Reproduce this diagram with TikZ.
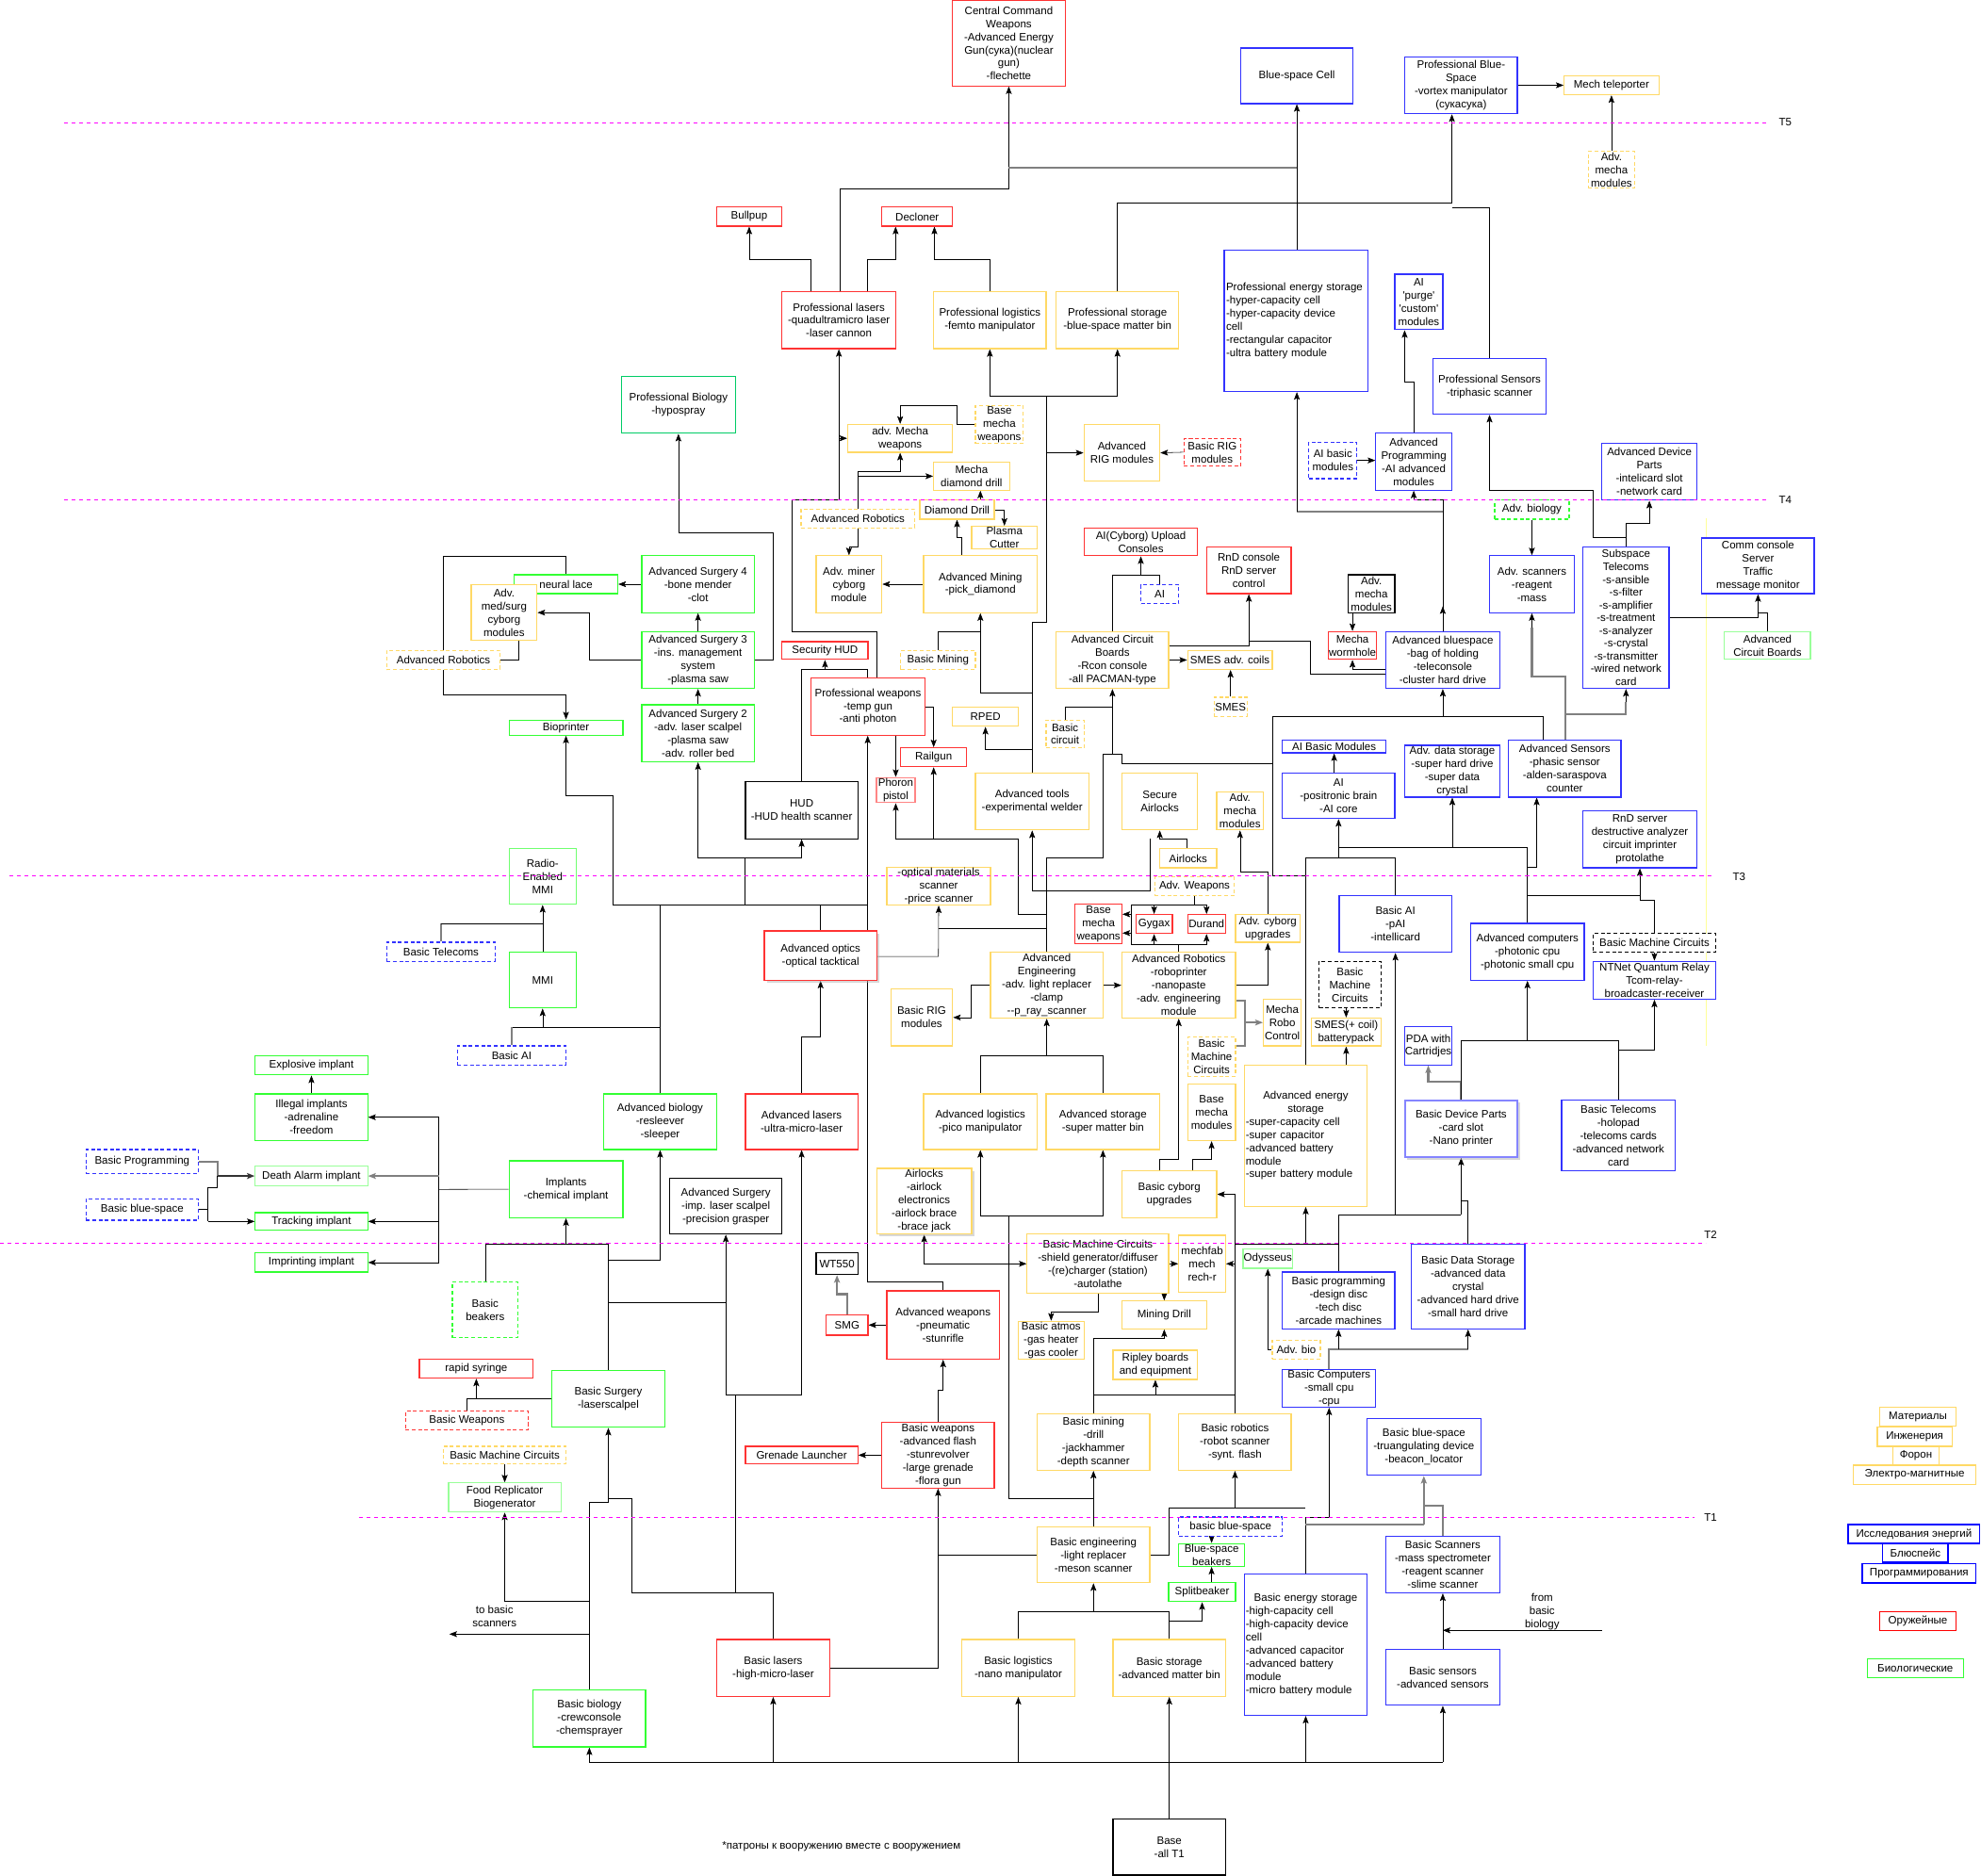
\documentclass[tikz,border=0pt]{standalone}
\usepackage{fontspec}
\setmainfont{Liberation Sans}
\usetikzlibrary{arrows.meta,shadows}
\pgfdeclarelayer{back}
\pgfdeclarelayer{bg}
\pgfsetlayers{back,bg,main}
\definecolor{cred}{HTML}{FF3333}
\definecolor{cyel}{HTML}{FFD966}
\definecolor{cblu}{HTML}{3333FF}
\definecolor{cgrn}{HTML}{33FF33}
\definecolor{clgr}{HTML}{99FF99}
\definecolor{ctgr}{HTML}{00CC66}
\definecolor{cmag}{HTML}{FF00FF}
\definecolor{cgry}{HTML}{808080}
\definecolor{cpyel}{HTML}{FFFF99}
\newcommand\nodefont{\fontsize{8.6}{10.4}\selectfont}
\newcommand\mybox[7]{\pgfmathsetmacro\bxw{#5-#3}\pgfmathsetmacro\bxh{#6-#4}\pgfmathsetmacro\bxx{(#3+#5)/2}\pgfmathsetmacro\bxy{(#4+#6)/2}\node[#1,minimum width=\bxw pt,minimum height=\bxh pt] (#2) at (\bxx,\bxy) {#7};}
\tikzset{
 bx/.style={draw, fill=white, line width=0.9pt, inner sep=0.5pt, align=center, font=\nodefont, text=black},
 sR/.style={bx,draw=cred}, sY/.style={bx,draw=cyel}, sB/.style={bx,draw=cblu},
 sG/.style={bx,draw=cgrn}, sK/.style={bx,draw=black}, sL/.style={bx,draw=clgr}, sT/.style={bx,draw=ctgr},
 dsh/.style={dash pattern=on 3pt off 2pt},
 dR/.style={sR,dsh}, dY/.style={sY,dsh}, dB/.style={sB,dsh}, dG/.style={sG,dsh}, dK/.style={sK,dsh},
 shd/.style={drop shadow={shadow xshift=2pt,shadow yshift=-2pt,fill=black!30}},
 ar/.style={-{Stealth[length=6pt,width=4.6pt,inset=1.2pt]}},
 arr2/.style={{Stealth[length=6pt,width=4.6pt,inset=1.2pt]}-{Stealth[length=6pt,width=4.6pt,inset=1.2pt]}},
 gl/.style={draw=cgry, line width=1.6pt},
 tl/.style={draw=cmag, line width=0.8pt, dash pattern=on 3pt off 3pt},
 lbl/.style={font=\nodefont, align=center, inner sep=0pt},
}
\begin{document}
\begin{tikzpicture}[x=1pt,y=-1pt,line width=0.8pt]
\useasboundingbox (0,0) rectangle (1568,1485);
\begin{pgfonlayer}{back}
\fill[white] (0,0) rectangle (1568,1485);
\end{pgfonlayer}
% ---------------- nodes ----------------
\mybox{sR}{cc}{754}{0.5}{843}{68}{Central Command\\Weapons\\-Advanced Energy\\Gun(сука)(nuclear\\gun)\\-flechette}
\mybox{sB}{bsc}{982}{38}{1071}{82}{Blue-space Cell}
\mybox{sB}{pbs}{1112}{45}{1201}{90}{Professional Blue-\\Space\\-vortex manipulator\\(сукасука)}
\mybox{sY}{mtel}{1238}{60}{1313}{75}{Mech teleporter}
\mybox{dY}{amm1}{1257}{120}{1294}{149}{Adv.\\mecha\\modules}
\mybox{sR}{bull}{567}{164}{619}{179}{Bullpup}
\mybox{sR}{decl}{698}{164}{754}{179}{Decloner}
\mybox{sR}{plas}{619}{231}{709}{276}{Professional lasers\\-quadultramicro laser\\-laser cannon}
\mybox{sY}{plog}{739}{231}{828}{276}{Professional logistics\\-femto manipulator}
\mybox{sY}{psto}{836}{231}{933}{276}{Professional storage\\-blue-space matter bin}
\mybox{sB,align=left,text width=111pt}{pen}{969}{198}{1083}{310}{Professional energy storage\\-hyper-capacity cell\\-hyper-capacity device\\cell\\-rectangular capacitor\\-ultra battery module}
\mybox{sB}{aipurge}{1104}{217}{1142}{261}{AI\\\textquotesingle purge\textquotesingle\\\textquotesingle custom\textquotesingle\\modules}
\mybox{sB}{psen}{1134}{284}{1224}{328}{Professional Sensors\\-triphasic scanner}
\mybox{sT}{pbio}{492}{298}{582}{343}{Professional Biology\\-hypospray}
\mybox{sY}{amw}{671}{336}{754}{358}{adv. Mecha\\weapons}
\mybox{dY}{bmw}{772}{321}{810}{351}{Base\\mecha\\weapons}
\mybox{sY}{arig}{858}{336}{918}{381}{Advanced\\RIG modules}
\mybox{dR}{brig}{937}{347}{982}{369}{Basic RIG\\modules}
\mybox{dB}{aibm}{1036}{350}{1074}{379}{AI basic\\modules}
\mybox{sB}{aprog}{1089}{343}{1149}{388}{Advanced\\Programming\\-AI advanced\\modules}
\mybox{sB}{adp}{1268}{351}{1343}{396}{Advanced Device\\Parts\\-intelicard slot\\-network card}
\mybox{sY}{mdd}{739}{366}{799}{388}{Mecha\\diamond drill}
\mybox{sY}{ddr}{728}{396}{787}{411}{Diamond Drill}
\mybox{dY}{arob1}{634}{403}{724}{418}{Advanced Robotics}
\mybox{sY}{pcut}{769}{418}{821}{433}{Plasma\\Cutter}
\mybox{dG}{abio}{1183}{396}{1242}{411}{Adv. biology}
\mybox{sR}{aiup}{858}{418}{948}{440}{AI(Cyborg) Upload\\Consoles}
\mybox{sB}{comm}{1347}{426}{1436}{470}{Comm console\\Server\\Traffic\\message monitor}
\mybox{sR}{rndc}{955}{433}{1022}{470}{RnD console\\RnD server\\control}
\mybox{sG}{as4}{508}{440}{597}{485}{Advanced Surgery 4\\-bone mender\\-clot}
\mybox{sG}{nlace}{407}{455}{489}{470}{neural lace}
\mybox{sY}{amsc}{373}{463}{425}{507}{Adv.\\med/surg\\cyborg\\modules}
\mybox{sY}{aminer}{646}{440}{698}{485}{Adv. miner\\cyborg\\module}
\mybox{sY}{amin}{731}{440}{821}{485}{Advanced Mining\\-pick\_diamond}
\mybox{dB}{aidash}{903}{463}{933}{478}{AI}
\mybox{sK}{amm2}{1067}{455}{1104}{485}{Adv.\\mecha\\modules}
\mybox{sB}{ascan}{1179}{440}{1246}{485}{Adv. scanners\\-reagent\\-mass}
\mybox{sB,font=\fontsize{8.6}{10.1}\selectfont}{subs}{1253}{433}{1321}{545}{Subspace\\Telecoms\\-s-ansible\\-s-filter\\-s-amplifier\\-s-treatment\\-s-analyzer\\-s-crystal\\-s-transmitter\\-wired network\\card}
\mybox{sG}{as3}{508}{500}{597}{545}{Advanced Surgery 3\\-ins. management\\system\\-plasma saw}
\mybox{dY}{arob2}{306}{515}{396}{530}{Advanced Robotics}
\mybox{sR}{shud}{619}{508}{687}{522}{Security HUD}
\mybox{dY}{bmin}{713}{515}{772}{530}{Basic Mining}
\mybox{sY}{acb}{836}{500}{925}{545}{Advanced Circuit\\Boards\\-Rcon console\\-all PACMAN-type}
\mybox{sY}{smesac}{940}{515}{1007}{530}{SMES adv. coils}
\mybox{sR}{mwh}{1052}{500}{1089}{522}{Mecha\\wormhole}
\mybox{sB}{absp}{1097}{500}{1187}{545}{Advanced bluespace\\-bag of holding\\-teleconsole\\-cluster hard drive}
\mybox{sL}{acb2}{1365}{500}{1433}{522}{Advanced\\Circuit Boards}
\mybox{sR}{pweap}{642}{537}{732}{582}{Professional weapons\\-temp gun\\-anti photon}
\mybox{dY}{smes}{961}{552}{987}{567}{SMES}
\mybox{sG}{as2}{508}{558}{597}{603}{Advanced Surgery 2\\-adv. laser scalpel\\-plasma saw\\-adv. roller bed}
\mybox{sG}{bioprn}{403}{570}{493}{582}{Bioprinter}
\mybox{sY}{rped}{754}{560}{806}{575}{RPED}
\mybox{dY}{bcirc}{828}{570}{858}{592}{Basic\\circuit}
\mybox{sB}{aibasic}{1015}{586}{1097}{596}{AI Basic Modules}
\mybox{sB}{adst}{1112}{590}{1187}{631}{Adv. data storage\\-super hard drive\\-super data\\crystal}
\mybox{sB}{asen}{1194}{586}{1283}{631}{Advanced Sensors\\-phasic sensor\\-alden-saraspova\\counter}
\mybox{sR}{rail}{713}{592}{765}{607}{Railgun}
\mybox{bx,draw=cred!60,line width=1.4pt}{phor}{694}{616}{724}{635}{Phoron\\pistol}
\mybox{sK}{hud}{590}{619}{679}{664}{HUD\\-HUD health scanner}
\mybox{sY}{atools}{772}{612}{862}{657}{Advanced tools\\-experimental welder}
\mybox{sY}{sair}{888}{612}{948}{657}{Secure\\Airlocks}
\mybox{sY}{amm3}{963}{627}{1000}{657}{Adv.\\mecha\\modules}
\mybox{sB}{aipos}{1015}{612}{1104}{648}{AI\\-positronic brain\\-AI core}
\mybox{sB}{rnds}{1253}{642}{1343}{687}{RnD server\\destructive analyzer\\circuit imprinter\\protolathe}
\mybox{sY}{air}{918}{672}{963}{687}{Airlocks}
\mybox{bx,draw=cgrn!70}{rmmi}{403}{672}{456}{716}{Radio-\\Enabled\\MMI}
\mybox{sY}{opt}{702}{687}{784}{716}{-optical materials\\scanner\\-price scanner}
\mybox{dY}{awep}{914}{694}{977}{709}{Adv. Weapons}
\mybox{sR}{bmw2}{851}{716}{888}{747}{Base\\mecha\\weapons}
\mybox{sR}{gyg}{899}{724}{928}{739}{Gygax}
\mybox{sR}{dur}{940}{724}{970}{739}{Durand}
\mybox{sY}{acu}{978}{724}{1029}{746}{Adv. cyborg\\upgrades}
\mybox{sB}{bai}{1060}{709}{1149}{754}{Basic AI\\-pAI\\-intellicard}
\mybox{sB}{acomp}{1164}{731}{1254}{776}{Advanced computers\\-photonic cpu\\-photonic small cpu}
\mybox{dK}{bmc1}{1261}{739}{1358}{754}{Basic Machine Circuits}
\mybox{sB}{ntnet}{1261}{761}{1358}{791}{NTNet Quantum Relay\\Tcom-relay-\\broadcaster-receiver}
\mybox{sR,shd}{aopt}{605}{737}{694}{776}{Advanced optics\\-optical tacktical}
\mybox{dB}{btel}{306}{746}{392}{761}{Basic Telecoms}
\mybox{sG}{mmi}{403}{754}{456}{798}{MMI}
\mybox{sY}{aeng}{784}{754}{873}{806}{Advanced\\Engineering\\-adv. light replacer\\-clamp\\-{}-p\_ray\_scanner}
\mybox{sY}{arob}{888}{754}{978}{806}{Advanced Robotics\\-roboprinter\\-nanopaste\\-adv. engineering\\module}
\mybox{sY}{brig2}{705}{783}{754}{828}{Basic RIG\\modules}
\mybox{dK}{bmc2}{1044}{761}{1093}{798}{Basic\\Machine\\Circuits}
\mybox{sY}{mrc}{1000}{791}{1030}{828}{Mecha\\Robo\\Control}
\mybox{sY}{smesb}{1038}{806}{1093}{828}{SMES(+ coil)\\batterypack}
\mybox{dY}{bmc3}{940}{821}{978}{852}{Basic\\Machine\\Circuits}
\mybox{sB}{pda}{1112}{813}{1149}{843}{PDA with\\Cartridjes}
\mybox{sG}{expl}{202}{836}{291}{851}{Explosive implant}
\mybox{dB}{baiL}{362}{828}{448}{843}{Basic AI}
\mybox{sY}{bmm}{940}{858}{978}{903}{Base\\mecha\\modules}
\mybox{sY,align=left,text width=95pt}{aes}{985}{843}{1082}{955}{{\centering Advanced energy\\storage\par}-super-capacity cell\\-super capacitor\\-advanced battery\\module\\-super battery module}
\mybox{sG}{ill}{202}{866}{291}{903}{Illegal implants\\-adrenaline\\-freedom}
\mybox{sG}{abiol}{478}{866}{567}{910}{Advanced biology\\-resleever\\-sleeper}
\mybox{sR}{alas}{590}{866}{679}{910}{Advanced lasers\\-ultra-micro-laser}
\mybox{sY}{alog}{731}{866}{821}{910}{Advanced logistics\\-pico manipulator}
\mybox{sY}{asto}{828}{866}{918}{910}{Advanced storage\\-super matter bin}
\mybox{bx,draw=cblu!60,line width=1.3pt,shd}{bdp}{1112}{871}{1201}{916}{Basic Device Parts\\-card slot\\-Nano printer}
\mybox{sB}{btel2}{1236}{871}{1326}{927}{Basic Telecoms\\-holopad\\-telecoms cards\\-advanced network\\card}
\mybox{dB}{bprog}{68}{910}{157}{929}{Basic Programming}
\mybox{sL}{death}{202}{923}{291}{939}{Death Alarm implant}
\mybox{sG}{impl}{403}{919}{493}{964}{Implants\\-chemical implant}
\mybox{sK}{asurg}{530}{933}{619}{977}{Advanced Surgery\\-imp. laser scalpel\\-precision grasper}
\mybox{sY,shd}{airl}{694}{925}{769}{977}{Airlocks\\-airlock\\electronics\\-airlock brace\\-brace jack}
\mybox{sY}{bcu}{888}{927}{963}{964}{Basic cyborg\\upgrades}
\mybox{dB}{bbsL}{68}{949}{157}{966}{Basic blue-space}
\mybox{sG}{track}{202}{960}{291}{974}{Tracking implant}
\mybox{sG}{impr}{202}{992}{291}{1007}{Imprinting implant}
\mybox{sY}{bmc4}{813}{977}{925}{1024}{Basic Machine Circuits\\-shield generator/diffuser\\-(re)charger (station)\\-autolathe}
\mybox{sY}{mech}{933}{978}{970}{1023}{mechfab\\mech\\rech-r}
\mybox{sL}{ody}{985}{989}{1022}{1004}{Odysseus}
\mybox{sB}{bprg}{1015}{1007}{1104}{1052}{Basic programming\\-design disc\\-tech disc\\-arcade machines}
\mybox{sB}{bds}{1117}{985}{1207}{1052}{Basic Data Storage\\-advanced data\\crystal\\-advanced hard drive\\-small hard drive}
\mybox{sK}{wt}{646}{992}{679}{1009}{WT550}
\mybox{dG}{bbeak}{358}{1015}{410}{1059}{Basic\\beakers}
\mybox{sR}{smg}{654}{1041}{687}{1057}{SMG}
\mybox{sR}{awea}{702}{1022}{791}{1076}{Advanced weapons\\-pneumatic\\-stunrifle}
\mybox{sY}{mdr}{888}{1030}{955}{1052}{Mining Drill}
\mybox{sY}{batm}{806}{1046}{858}{1076}{Basic atmos\\-gas heater\\-gas cooler}
\mybox{sY}{ripl}{881}{1069}{948}{1092}{Ripley boards\\and equipment}
\mybox{dY}{abio2}{1007}{1061}{1045}{1076}{Adv. bio}
\mybox{sB}{bcomp}{1015}{1084}{1089}{1114}{Basic Computers\\-small cpu\\-cpu}
\mybox{sR}{rsyr}{332}{1076}{422}{1091}{rapid syringe}
\mybox{sG}{bsurg}{437}{1085}{526}{1130}{Basic Surgery\\-laserscalpel}
\mybox{dR}{bweapd}{321}{1117}{418}{1132}{Basic Weapons}
\mybox{sR}{bweap}{698}{1126}{787}{1178}{Basic weapons\\-advanced flash\\-stunrevolver\\-large grenade\\-flora gun}
\mybox{sY}{bmin2}{821}{1119}{910}{1164}{Basic mining\\-drill\\-jackhammer\\-depth scanner}
\mybox{sY}{brob}{933}{1119}{1022}{1164}{Basic robotics\\-robot scanner\\-synt. flash}
\mybox{sB}{bbs}{1082}{1123}{1172}{1168}{Basic blue-space\\-truangulating device\\-beacon\_locator}
\mybox{sR}{gren}{590}{1145}{679}{1159}{Grenade Launcher}
\mybox{dY}{bmc5}{351}{1145}{448}{1159}{Basic Machine Circuits}
\mybox{sL}{food}{355}{1174}{444}{1197}{Food Replicator\\Biogenerator}
\mybox{dB}{bbsd}{933}{1201}{1015}{1216}{basic blue-space}
\mybox{sG}{bsbk}{933}{1222}{985}{1240}{Blue-space\\beakers}
\mybox{sY}{beng}{821}{1209}{910}{1253}{Basic engineering\\-light replacer\\-meson scanner}
\mybox{sG}{split}{925}{1253}{978}{1268}{Splitbeaker}
\mybox{sB}{bscan}{1097}{1216}{1187}{1261}{Basic Scanners\\-mass spectrometer\\-reagent scanner\\-slime scanner}
\mybox{sB,align=left,text width=95pt}{bes}{985}{1246}{1082}{1358}{{\centering Basic energy storage\par}-high-capacity cell\\-high-capacity device\\cell\\-advanced capacitor\\-advanced battery\\module\\-micro battery module}
\mybox{sR}{blas}{567}{1298}{657}{1343}{Basic lasers\\-high-micro-laser}
\mybox{sY}{blog}{761}{1298}{851}{1343}{Basic logistics\\-nano manipulator}
\mybox{sY}{bsto}{881}{1298}{970}{1343}{Basic storage\\-advanced matter bin}
\mybox{sB}{bsen}{1097}{1306}{1187}{1350}{Basic sensors\\-advanced sensors}
\mybox{sG}{bbio}{422}{1338}{511}{1383}{Basic biology\\-crewconsole\\-chemsprayer}
\mybox{sK}{base}{881}{1440}{970}{1484.5}{Base\\-all T1}
% legend
\mybox{sY}{lg1}{1488}{1114}{1548}{1129}{Материалы}
\mybox{sY}{lg2}{1486}{1130}{1545}{1145}{Инженерия}
\mybox{sY}{lg3}{1498}{1145}{1535}{1160}{Форон}
\mybox{sY}{lg4}{1467}{1160}{1564}{1175}{Электро-магнитные}
\mybox{sB,draw=blue,line width=1.2pt}{lg5}{1463}{1207}{1567}{1222}{Исследования энергий}
\mybox{sB,draw=blue,line width=1.2pt}{lg6}{1490}{1222}{1542}{1237}{Блюспейс}
\mybox{sB,draw=blue,line width=1.2pt}{lg7}{1474}{1238}{1564}{1253}{Программирования}
\mybox{sR,draw=red}{lg8}{1488}{1276}{1548}{1291}{Оружейные}
\mybox{sG}{lg9}{1478}{1313}{1554}{1328}{Биологические}
% free labels
\node[lbl] (tobs) at (391.4,1279.3) {to basic\\scanners};
\node[lbl] (fbb) at (1220.6,1276) {from\\basic\\biology};
\node[lbl] (note) at (666,1461.5) {*патроны к вооружению вместе с вооружением};
\node[lbl] (t5) at (1413,97) {T5};
\node[lbl] (t4) at (1413,396) {T4};
\node[lbl] (t3) at (1376.5,694) {T3};
\node[lbl] (t2) at (1354,977.5) {T2};
\node[lbl] (t1) at (1354,1201.5) {T1};
\coordinate (toscan) at (355.7,1293.7);
\coordinate (frombio) at (1268,1290.7);
% tier lines (on top)
\draw[tl] (50.8,97.2) -- (1400,97.2);
\draw[tl] (50.8,395.6) -- (1400,395.6);
\draw[tl] (7.3,693.3) -- (1357,693.3);
\draw[tl] (0,984.1) -- (1350,984.1);
\draw[tl] (284,1201.2) -- (1341.5,1201.2);
% ---------------- connectors ----------------
\begin{pgfonlayer}{bg}
\draw[cpyel,line width=0.6pt] (1350.5,410) -- (1350.5,828);
\draw[ar] (plas.north -| 664.5,0) -- (664.5,149.4) -| (cc.south);
\draw[gl] (798.5,132.8) -- (1026.5,132.8);
\draw[ar] (pen.north -| 1026.5,0) -- (bsc.south);
\draw[ar] (plas.north -| 641.8,0) -- (641.8,205.4) -| (bull.south);
\draw[ar] (plas.north -| 686.5,0) -- (686.5,205.4) -| (decl.south -| 708.9,0);
\draw[ar] (plog.north) -- (783.5,205.4) -| (decl.south -| 739.6,0);
\draw[ar] (psto.north) -- (884.5,160.6) -| (pbs.south -| 1149.2,0);
\draw (psen.north) |- (1149.2,164.4);
\draw[ar] (pbs.east) -- (mtel.west);
\draw[ar] (amm1.north) -- (mtel.south);
\draw (atools.north) -- (817,492.6) -- (828.4,492.6) -- (828.4,313.5);
\draw[ar] (828.4,313.5) -| (plog.south);
\draw[ar] (828.4,313.5) -| (psto.south);
\draw[ar] (arig.west -| 828.4,0) -- (arig.west);
\draw[ar] (817,548.5) -| (amin.south);
\draw[ar] (817,593.3) -| (rped.south);
\draw (bmin.north) |- (776,500);
\draw[ar] (brig.west) -- (arig.east);
\draw[ar] (bmw.west) -- (757.6,336) -- (757.6,321) -| (amw.north);
\draw[ar] (amw.west -| 664.5,0) -- (amw.west);
\draw[ar] (arob1.north) -- (679,373) -| (amw.south);
\draw[ar] (679,377) -- (mdd.west);
\draw[ar] (arob1.south) -- (679,433) -| (aminer.north);
\draw[ar] (amin.west) -- (aminer.east);
\draw[ar] (amin.north -| 761.3,0) -- (761.3,425.5) -| (ddr.south);
\draw[ar] (ddr.east) -| (pcut.north);
\draw[ar] (ddr.north -| 776,0) -- (mdd.south -| 776,0);
\draw[ar] (pweap.north -| 694.2,0) -- (694.2,500) -- (627.1,500) -- (627.1,395.6) -| (plas.south);
\draw[ar] (as3.east |- 0,522.4) -- (611.7,522.4) -- (611.7,421.7) -| (pbio.south);
\draw[ar] (as3.north) -- (as4.south);
\draw[ar] (as2.north) -- (as3.south);
\draw (589.7,716.4) -- (589.7,679.1);
\draw[ar] (589.7,679.1) -| (as2.south);
\draw[ar] (589.7,679.1) -| (hud.south);
\draw (hud.north) |- (686.8,529.9);
\draw[ar] (shud.south |- 0,529.9) -- (shud.south);
\draw (686.8,529.9) -- (pweap.north -| 686.8,0);
\draw[ar] (pweap.east) -| (rail.north);
\draw[ar] (pweap.south -| phor.north) -- (phor.north);
\draw[ar] (806.1,664.2) -| (phor.south);
\draw[ar] (rail.south |- 0,664.2) -- (rail.south);
\draw (806.1,664.2) -- (806.1,723.8) -- (828.4,723.8);
\draw[ar] (aeng.north) -- (828.5,679.1) -- (873.2,679.1) -- (873.2,597.2) -- (880.5,597.2) -- (acb.south);
\draw (880.5,597.2) -- (887.9,597.2) -- (887.9,604.5) -- (1007.4,604.5) -- (1007.4,567.2) -- (1221.3,567.2) -- (asen.north -| 1221.3,0);
\draw[ar] (1142,567.2) -- (absp.south);
\draw (1007.4,567.2) -- (1007.4,693.3) -- (1033.5,693.3);
\draw[ar] (aopt.east |- 0,757.3) -- (742.75,757.3) -- (opt.south);
\draw (742.75,735) -- (828.5,735);
\draw (bcirc.north) |- (880.5,559.7);
\draw[ar] (acb.north) -- (880.5,455.3) -| (aiup.south);
\draw (aidash.north) |- (902.9,455.3);
\draw[ar] (acb.east |- 0,511.2) -| (rndc.south);
\draw (988.5,507.5) -- (1036.9,507.5) -- (1036.9,533.6) -- (absp.west |- 0,533.6);
\draw[ar] (acb.east |- smesac.west) -- (smesac.west);
\draw[ar] (smes.north) -- (smesac.south -| smes.north);
\draw[ar] (amm2.south -| mwh.north) -- (mwh.north);
\draw[ar] (absp.west |- 0,529.9) -| (mwh.south);
\draw[ar] (aibm.east) -- (aprog.west |- aibm.east);
\draw[ar] (aprog.north) -- (1119,302.4) -| (aipurge.south -| 1111.8,0);
\draw[ar] (absp.north) -- (1142,395.6) -| (aprog.south);
\draw[ar] (1142,492) -- (1142,480);
\draw[gl] (1142,404.8) -- (1026.5,404.8);
\draw[ar] (1026.5,404.8) -- (pen.south -| 1026.5,0);
\draw[ar] (abio.south) -- (ascan.north);
\draw[gl] (asen.north -| 1238.7,0) -- (1238.7,535.6) -- (1212.5,535.6) -- (1212.5,497);
\draw[ar] (1212.5,497) -- (ascan.south);
\draw[gl] (1238.7,565.2) -- (1287,565.2) -- (1287,556);
\draw[ar] (1287,556) -- (subs.south);
\draw[ar] (subs.north) -- (1287,414.3) -| (adp.south);
\draw[ar] (1287,425.5) -- (1261,425.5) -- (1261,388.2) -| (psen.south);
\draw[ar] (subs.east |- 0,488.9) -| (comm.south);
\draw (acb2.north) |- (1391.5,485.1);
\draw[ar] (as4.west) -- (nlace.east);
\draw[ar] (as3.west |- 0,522.4) -- (466.2,522.4) -- (466.2,485) -- (amsc.east);
\draw (arob2.north) -- (351,440.4) -| (nlace.north);
\draw (arob2.east) -| (amsc.south -| 410.4,0);
\draw[ar] (arob2.south) -- (351,550.1) -| (bioprn.north);
\draw[ar] (485.2,716.4) -- (485.2,629.9) -| (bioprn.south);
\draw (485.2,716.4) -- (686.8,716.4);
\draw (abiol.north) -- (522.5,716.4);
\draw (aopt.north) -- (649.5,716.4);
\draw[ar] (awea.north) -- (746.5,1014.7) -- (686.8,1014.7) -- (pweap.south -| 686.8,0);
\draw[ar] (mmi.north) -- (rmmi.south);
\draw[gl] (btel.north) -- (349,731.3);
\draw (349,731.3) -- (429.5,731.3);
\draw (522.5,813.3) -- (404.8,813.3);
\draw[ar] (429.5,813.3) -- (mmi.south);
\draw[gl] (baiL.north) -- (baiL.north |- 0,813.3);
\draw[ar] (ill.north) -- (expl.south);
\draw (impl.west) -- (347.3,941.6);
\draw (347.3,884.5) -- (347.3,999.8);
\draw[ar] (347.3,884.5) -- (ill.east);
\draw[gl,ar] (347.3,931) -- (death.east);
\draw[ar] (347.3,967) -- (track.east);
\draw[ar] (347.3,999.5) -- (impr.east);
\draw[gl] (bprog.east) -- (172,919.5) -- (172,931);
\draw[ar,line width=1.4pt,black!80] (172,931) -- (death.west);
\draw (bbsL.east) -- (164.6,957.5);
\draw (164.6,940.2) -- (164.6,967);
\draw (164.6,940.2) -- (172,940.2) -- (172,931);
\draw[ar] (164.6,967) -- (track.west);
\draw[ar] (alas.north) -- (634.5,820.8) -| (aopt.south);
\draw[ar] (574.5,1104.2) -- (asurg.south);
\draw[ar] (574.5,1104.2) -| (alas.south);
\draw (481.5,1031.1) -- (574.5,1031.1);
\draw (bsurg.north) -- (481.5,984.8);
\draw (384,984.8) -- (481.5,984.8);
\draw[ar] (impl.south |- 0,984.8) -- (impl.south);
\draw (bbeak.north) -- (384,984.8);
\draw[ar] (481.5,997.5) -| (abiol.south);
\draw[ar] (bsurg.west) -| (rsyr.south);
\draw (bweapd.north) |- (bsurg.west);
\draw[ar] (bbio.north) -- (466.5,1189.3) -| (bsurg.south);
\draw (481.5,1186.3) -- (500,1186.3) -- (500,1260.9) -- (612,1260.9) -- (blas.north);
\draw (582.3,1260.9) -- (582.3,1104.2) -- (574.5,1104.2);
\draw[ar] (466.5,1267.6) -| (food.south);
\draw[ar] (bmc5.south) -- (food.north);
\draw[ar] (466.5,1293.7) -- (toscan);
\draw (466.5,1395.2) -- (1142,1395.2);
\draw[ar] (bbio.south |- 0,1395.2) -- (bbio.south);
\draw[ar] (blas.south |- 0,1395.2) -- (blas.south);
\draw[ar] (blog.south |- 0,1395.2) -- (blog.south);
\draw[ar] (base.north) -- (bsto.south);
\draw[ar] (bes.south |- 0,1395.2) -- (bes.south);
\draw[ar] (bsen.south |- 0,1395.2) -- (bsen.south);
\draw[ar] (blas.east) -| (bweap.south);
\draw (742.5,1231) -- (beng.west);
\draw[ar] (bweap.west) -- (gren.east);
\draw[ar] (bweap.north) -- (742.5,1100.7) -| (awea.south);
\draw[ar] (awea.west) -- (smg.east);
\draw[gl,ar] (smg.north) -- (670.5,1024.6) -| (wt.south);
\draw[ar] (beng.north) -- (bmin2.south);
\draw (865.5,1186.3) -- (798.4,1186.3) -- (798.4,962.5);
\draw[ar] (798.4,962.5) -| (alog.south);
\draw[ar] (798.4,962.5) -| (asto.south);
\draw (alog.north) -- (776,835.7) -| (asto.north);
\draw[ar] (828.5,835.7) -- (aeng.south);
\draw[ar] (aeng.west) -- (768.7,780) |- (brig2.east);
\draw[ar] (aeng.east) -- (arob.west);
\draw[ar] (arob.east) -| (acu.south);
\draw[gl] (arob.east |- 0,792.2) -- (985.1,792.2) -- (985.1,828.2) -- (bmc3.east |- 0,828.2);
\draw[gl,ar] (985.1,809.5) -- (mrc.west);
\draw[ar] (bcu.north -| 917.9,0) -- (917.9,917.7) -| (arob.south);
\draw[ar] (bcu.north -| 944,0) -- (944,917.7) -| (bmm.south);
\draw[ar] (brob.north) -- (977.5,945.5) -- (bcu.east);
\draw[ar] (977.5,1000.5) -- (mech.east);
\draw (977.5,1104.2) -- (865.5,1104.2);
\draw[ar] (914.5,1104.2) -- (ripl.south);
\draw[ar] (bmin2.north) -- (865.5,1059.4) -| (mdr.south);
\draw[ar] (bmc4.east) -- (mech.west);
\draw[ar] (bmc4.south -| mdr.north) -- (mdr.north);
\draw[ar] (bmc4.south -| 869.5,0) -- (869.5,1038.5) -| (batm.north);
\draw[arr2] (airl.south) |- (bmc4.west);
\draw[ar] (abio2.west) -| (ody.south);
\draw[gl] (bcomp.north) -- (1052,1067.9) -- (1162,1067.9);
\draw[ar] (1162,1067.9) -- (bds.south);
\draw[ar] (1059.5,1067.9) -- (bprg.south);
\draw[ar] (bes.north) -- (1033.5,1201.2) -| (bcomp.south);
\draw[gl] (1033.5,1206.7) -- (1127,1206.7);
\draw[gl,ar] (1127,1206.7) -- (bbs.south);
\draw[gl] (bscan.north) -- (1142,1191.8) -- (1127,1191.8);
\draw (beng.east) -- (925.3,1231) -- (925.3,1193.8) -- (1033.5,1193.8);
\draw[ar] (977.5,1193.8) -- (brob.south);
\draw[ar] (bbsd.south -| bsbk.north) -- (bsbk.north);
\draw[ar] (split.north -| bsbk.south) -- (bsbk.south);
\draw (blog.north) -- (806,1275.8) -| (bsto.north);
\draw[ar] (865.5,1275.8) -- (beng.south);
\draw[ar] (925.5,1283.3) -| (split.south);
\draw[ar] (bsen.north) -- (bscan.south);
\draw[ar] (frombio) -- (1142,1290.7);
\draw[gl,ar] (bdp.north) -- (1156.5,856.1) -| (pda.south);
\draw (bdp.north) -- (1156.5,823.7) -| (btel2.north);
\draw[ar] (1209,823.7) -- (acomp.south);
\draw[ar] (1281,831.2) -| (ntnet.south);
\draw[ar] (bmc1.south) -- (ntnet.north);
\draw[ar] (bmc1.north) -- (1309.5,712.7) -| (rnds.south);
\draw (acomp.north) -- (1209,671);
\draw[ar] (1209,671) -| (adst.south);
\draw[ar] (1209,686.5) -| (asen.south -| 1216.3,0);
\draw (1209,709) -- (1298,709);
\draw (1209,671) -- (1059.5,671);
\draw[ar] (1059.5,679.1) -- (aipos.south);
\draw (1033.5,679.1) -- (1104.5,679.1);
\draw (1104.5,679.1) -- (bai.north);
\draw (1033.5,679.1) -- (aes.north);
\draw[ar] (aipos.north -| aibasic.south) -- (aibasic.south);
\draw[ar] (bai.south |- 0,961.7) -- (bai.south);
\draw (1059.5,961.7) -- (1156.5,961.7);
\draw[ar] (1156.5,961.7) -- (bdp.south);
\draw (bprg.north) -- (1059.5,961.7);
\draw (bds.north -| 1161.8,0) -- (1161.8,950.3) -- (1156.5,950.3);
\draw[ar] (1033.5,985.2) -- (aes.south);
\draw (977.5,985.2) -- (1059.5,985.2);
\draw[ar] (aes.north -| smesb.south) -- (smesb.south);
\draw[ar] (bmc2.south -| smesb.north) -- (smesb.north);
\draw (awep.south) -- (945.5,716.4);
\draw (895.6,716.4) -- (955,716.4);
\draw[ar] (913.5,716.4) -- (gyg.north);
\draw[ar] (955,716.4) -- (dur.north);
\draw (895.6,716.4) -- (895.6,748);
\draw[ar] (895.6,723.8) -- (bmw2.east |- 0,723.8);
\draw[ar] (895.6,738.7) -- (bmw2.east |- 0,738.7);
\draw (arob.north) -- (933,748);
\draw (895.6,748) -- (955,748);
\draw[ar] (913.5,748) -- (gyg.south);
\draw[ar] (955,748) -- (dur.south);
\draw[ar] (air.north -| 939.6,0) -- (939.6,664.2) -| (sair.south);
\draw[ar] (910.6,664.2) -- (910.6,705.2) -| (atools.south);
\draw[ar] (acu.north) -- (1003.5,690.3) -| (amm3.south);
\end{pgfonlayer}
\end{tikzpicture}
\end{document}
